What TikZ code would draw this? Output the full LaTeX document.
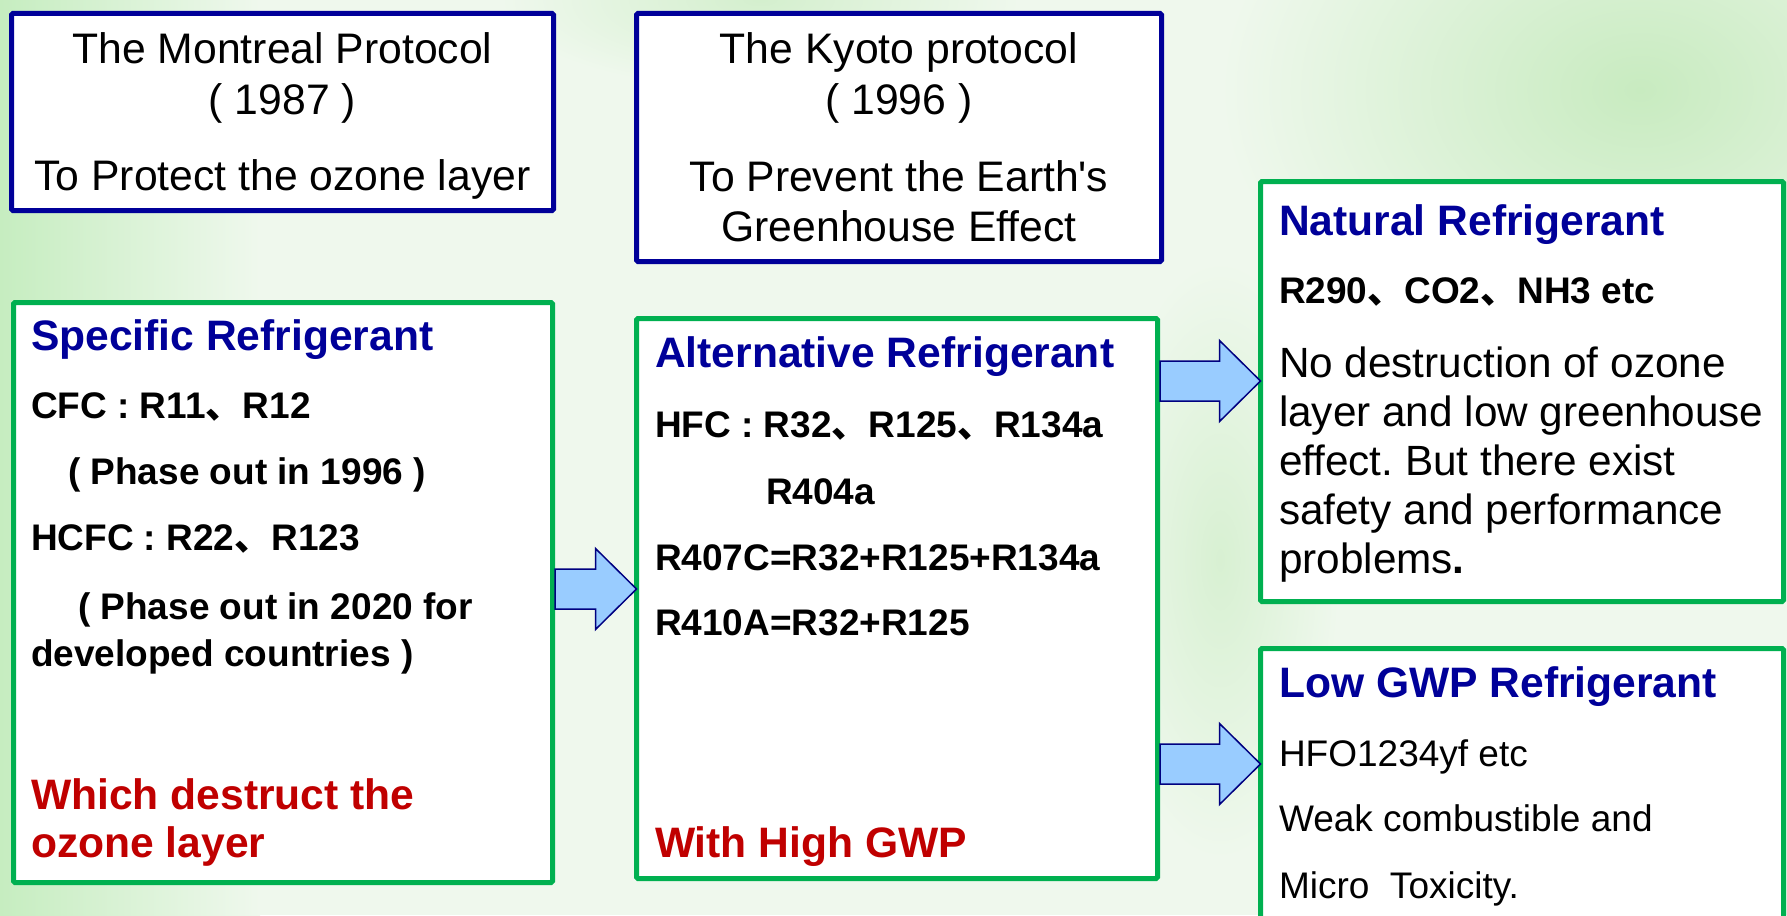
\documentclass[tikz,border=0pt]{standalone}
\usepackage{fontspec}
\setmainfont{Liberation Sans}
\newfontfamily\cjk{Noto Sans CJK SC}
\usetikzlibrary{calc}
\frenchspacing
\definecolor{navy}{HTML}{000099}
\definecolor{boxgreen}{HTML}{00B050}
\definecolor{titleblue}{HTML}{000099}
\definecolor{alertred}{HTML}{C00000}
\definecolor{arrowfill}{HTML}{99CCFF}
\definecolor{arrowline}{HTML}{000080}
\definecolor{bgbase}{HTML}{EFF8ED}
\definecolor{bgleft}{HTML}{C6EDC0}
\definecolor{bgright}{HTML}{C8EBC0}
\tikzset{
  box/.style={draw, fill=white, line width=5pt, inner sep=0pt, outer sep=0pt, rounded corners=1.5pt},
  protobox/.style={box, draw=navy},
  refbox/.style={box, draw=boxgreen},
  txt/.style={inner sep=0pt, outer sep=0pt, anchor=base west, font=\fontsize{37}{44}\selectfont\bfseries},
  ctxt/.style={inner sep=0pt, outer sep=0pt, anchor=base, font=\fontsize{42.7}{50}\selectfont},
  reftitle/.style={txt, text=titleblue, font=\fontsize{42.6}{50}\selectfont\bfseries},
  alert/.style={txt, text=alertred, font=\fontsize{42.6}{50}\selectfont\bfseries},
  body/.style={txt, font=\fontsize{42.3}{50}\selectfont},
  small/.style={txt, font=\fontsize{37}{44}\selectfont},
  barrow/.style={fill=arrowfill, draw=arrowline, line width=1.5pt, line join=miter},
}
\newcommand\blockarrow[2]{%
  \draw[barrow] let \p1=(#1), \p2=(#2) in
    (\x1+2.5pt,\y1+20pt) -- (\x2-41pt,\y1+20pt) -- (\x2-41pt,\y1+40.5pt) -- (\x2,\y1)
    -- (\x2-41pt,\y1-40.5pt) -- (\x2-41pt,\y1-20pt) -- (\x1+2.5pt,\y1-20pt) -- cycle;}
\begin{document}
\begin{tikzpicture}[x=1pt,y=-1pt]
\useasboundingbox (0,0) rectangle (1787,915);
\clip (0,0) rectangle (1787,915);
% background
\fill[bgbase] (0,0) rectangle (1787,915);
\shade[left color=bgleft, right color=bgbase] (0,0) rectangle (260,915);
\shade[inner color=bgright, outer color=bgbase] (1640,90) ellipse (420 and 300);
\shade[inner color=bgright!70!bgbase, outer color=bgbase] (760,0) ellipse (260 and 90);
\shade[inner color=bgright!60!bgbase, outer color=bgbase] (1220,560) ellipse (120 and 300);
% boxes
\node[protobox, minimum width=542, minimum height=197] (mont) at (282.5,112) {};
\node[protobox, minimum width=525, minimum height=248] (kyoto) at (899,137.5) {};
\node[refbox, minimum width=539, minimum height=580] (spec) at (283,592.5) {};
\node[refbox, minimum width=521, minimum height=560] (alt) at (897,598.5) {};
\node[refbox, minimum width=523, minimum height=420] (nat) at (1522,391.5) {};
\node[refbox, minimum width=523, minimum height=291] (low) at (1522,794) {};
% arrows
\coordinate (ya) at (0,589);
\coordinate (yb) at (0,381);
\coordinate (yc) at (0,764);
\blockarrow{spec.east |- ya}{alt.west |- ya}
\blockarrow{alt.east |- yb}{nat.west |- yb}
\blockarrow{alt.east |- yc}{low.west |- yc}
% Montreal
\node[ctxt] (m1) at (282.5,64) {The Montreal Protocol};
\node[ctxt] (m2) at (282.5,114) {( 1987 )};
\node[ctxt] (m3) at (282.5,190) {To Protect the ozone layer};
% Kyoto
\node[ctxt] (k1) at (899,64) {The Kyoto protocol};
\node[ctxt] (k2) at (899,114) {( 1996 )};
\node[ctxt] (k3) at (899,191) {To Prevent the Earth\textquotesingle s};
\node[ctxt] (k4) at (899,241) {Greenhouse Effect};
% Specific
\node[reftitle] (s1) at (31,350) {Specific Refrigerant};
\node[txt] (s2) at (31,418) {CFC : R11{\cjk 、}R12};
\node[txt] (s3) at (68,484) {( Phase out in 1996 )};
\node[txt] (s4) at (31,550) {HCFC : R22{\cjk 、}R123};
\node[txt] (s5) at (78,619) {( Phase out in 2020 for};
\node[txt] (s6) at (31,666) {developed countries )};
\node[alert] (s7) at (31,809) {Which destruct the};
\node[alert] (s8) at (31,857) {ozone layer};
% Alternative
\node[reftitle] (a1) at (655,367) {Alternative Refrigerant};
\node[txt] (a2) at (655,437) {HFC : R32{\cjk 、}R125{\cjk 、}R134a};
\node[txt] (a3) at (766,504) {R404a};
\node[txt] (a4) at (655,570) {R407C=R32+R125+R134a};
\node[txt] (a5) at (655,635) {R410A=R32+R125};
\node[alert] (a6) at (655,857) {With High GWP};
% Natural
\node[reftitle] (n1) at (1279,235) {Natural Refrigerant};
\node[txt] (n2) at (1279,303) {R290{\cjk 、}CO2{\cjk 、}NH3 etc};
\node[body] (n3) at (1279,377) {No destruction of ozone};
\node[body] (n4) at (1279,426) {layer and low greenhouse};
\node[body] (n5) at (1279,475) {effect. But there exist};
\node[body] (n6) at (1279,524) {safety and performance};
\node[body] (n7) at (1279,573) {problems\textbf{.}};
% Low GWP
\node[reftitle] (l1) at (1279,697) {Low GWP Refrigerant};
\node[small] (l2) at (1279,766) {HFO1234yf etc};
\node[small] (l3) at (1279,831) {Weak combustible and};
\node[small] (l4) at (1279,898) {Micro\ \ Toxicity.};
\end{tikzpicture}
\end{document}
